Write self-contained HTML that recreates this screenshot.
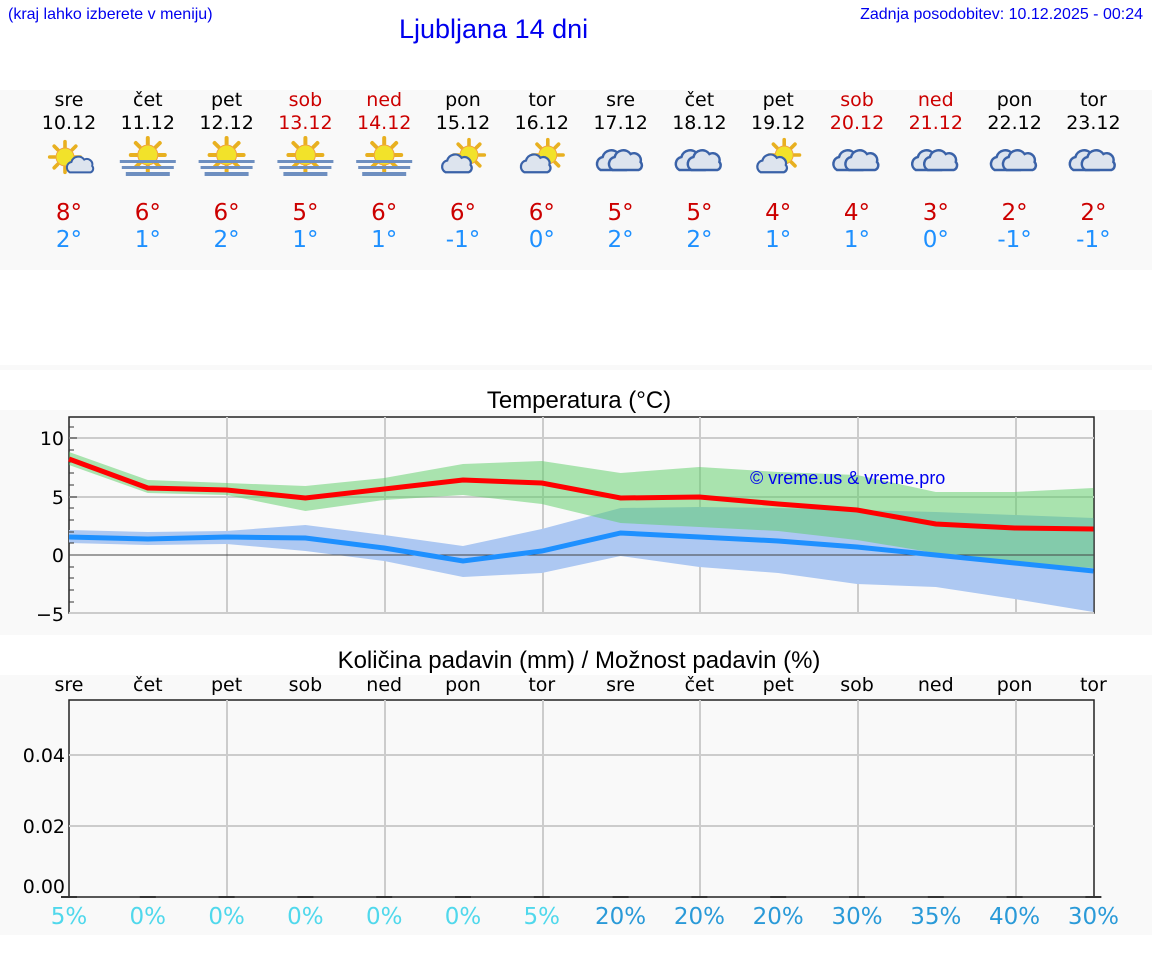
<!DOCTYPE html>
<html><head><meta charset="utf-8"><style>
body{margin:0;width:1152px;height:975px;background:#fff;font-family:"DejaVu Sans","Liberation Sans",sans-serif;position:relative;overflow:hidden}
.a{position:absolute}
.band{position:absolute;left:0;width:1152px;background:#f9f9f9}
.day{position:absolute;width:80px;text-align:center;font-size:19px;line-height:23px}
</style></head><body>
<div class="a" style="left:8px;top:6px;font-size:16px;color:#0000ee;font-family:'Liberation Sans',sans-serif">(kraj lahko izberete v meniju)</div>
<div class="a" style="left:399px;top:14px;font-size:27px;color:#0000ee;font-family:'Liberation Sans',sans-serif">Ljubljana 14 dni</div>
<div class="a" style="right:9px;top:6px;font-size:16px;color:#0000ee;font-family:'Liberation Sans',sans-serif">Zadnja posodobitev: 10.12.2025 - 00:24</div>
<div class="band" style="top:90px;height:180px"></div>
<div class="band" style="top:365px;height:5px"></div>
<div class="band" style="top:410px;height:225px"></div>
<div class="band" style="top:675px;height:260px"></div>
<div id="days"></div>
<svg class="a" style="left:0;top:0" width="1152" height="975" id="s">
<defs>
<g id="sun"><g stroke="#e8b020" stroke-width="4" stroke-linecap="round"><line x1="0" y1="-11" x2="0" y2="-17"/><line x1="8" y1="-8" x2="12" y2="-12"/><line x1="-8" y1="-8" x2="-12" y2="-12"/><line x1="11" y1="0" x2="17" y2="0"/><line x1="-11" y1="0" x2="-17" y2="0"/><line x1="8" y1="8" x2="12" y2="12"/><line x1="-8" y1="8" x2="-12" y2="12"/><line x1="0" y1="11" x2="0" y2="17"/></g><circle r="10" fill="#f2e22a" stroke="#f0a040"/></g>
<g id="cl"><path d="M-14 8 a7 7 0 0 1 2-13 a9 9 0 0 1 16-3 a7 7 0 0 1 10 8 a5 5 0 0 1-2 8z" fill="#dde4ee" stroke="#3a62a8" stroke-width="2.5"/></g>
<g id="fog"><g fill="#6e8fc0"><rect x="-28" y="2" width="56" height="3"/><rect x="-26" y="8" width="52" height="3"/><rect x="-22" y="14" width="44" height="4"/></g></g>
</defs>
</svg>
<script>
var names=["sre","čet","pet","sob","ned","pon","tor","sre","čet","pet","sob","ned","pon","tor"];
var dates=["10.12","11.12","12.12","13.12","14.12","15.12","16.12","17.12","18.12","19.12","20.12","21.12","22.12","23.12"];
var hi=[8,6,6,5,6,6,6,5,5,4,4,3,2,2],lo=[2,1,2,1,1,-1,0,2,2,1,1,0,-1,-1];
var pct=[5,0,0,0,0,0,5,20,20,20,30,35,40,30];
var icons=["sc","fog","fog","fog","fog","sc2","sc2","cc","cc","sc2","cc","cc","cc","cc"];
var h="";var s="";
for(var i=0;i<14;i++){var x=69+i*78.8;var red=(i==3||i==4||i==10||i==11);
h+='<div class="day" style="left:'+(x-40)+'px;top:89px;color:'+(red?'#cc0000':'#000')+'">'+names[i]+'<br>'+dates[i]+'</div>';
h+='<div class="day" style="left:'+(x-40)+'px;top:200px;font-size:23px;line-height:27px;color:#cc0000">'+hi[i]+'°</div>';
h+='<div class="day" style="left:'+(x-40)+'px;top:227px;font-size:23px;line-height:27px;color:#1e90ff">'+lo[i]+'°</div>';
h+='<div class="day" style="left:'+(x-40)+'px;top:674px;">'+names[i]+'</div>';
h+='<div class="day" style="left:'+(x-40)+'px;top:904px;font-size:23px;line-height:27px;color:'+(pct[i]>=20?'#2a9ad8':'#50d8ec')+'">'+pct[i]+'%</div>';
var c=icons[i];
if(c=="fog")s+='<g transform="translate('+(x)+',158)"><use href="#sun" transform="translate(0,-3)"/><use href="#fog"/></g>';
else if(c=="sc")s+='<g transform="translate('+x+',160)"><use href="#sun" transform="translate(-4,-3) scale(.9)"/><use href="#cl" transform="translate(12,6) scale(.8)"/></g>';
else if(c=="sc2")s+='<g transform="translate('+x+',160)"><use href="#sun" transform="translate(6,-5) scale(.9)"/><use href="#cl" transform="translate(-5,5) scale(.9)"/></g>';
else s+='<g transform="translate('+x+',160)"><use href="#cl" transform="translate(-6,2) scale(1)"/><use href="#cl" transform="translate(6,2) scale(1)"/></g>';
}
document.getElementById("days").innerHTML=h;
var X=[];for(var i=0;i<14;i++)X.push(69+i*78.8);
function pl(a){return a.map(function(y,i){return X[i]+','+y}).join(' ')}
function band(u,l){return pl(u)+' '+l.map(function(y,i){return X[i]+','+y}).reverse().join(' ')}
var gu=[452,480,483,486,478,464,461,473,467,472,475,492,492,488],gl=[465,493,495,511,500,495,504,523,527,531,540,553,563,568];
var bu=[530,532,531,525,535,546,529,508,507,508,510,512,515,518],bl=[543,545,544,551,561,577,573,556,567,573,584,587,599,612];
var r=[459,488,490,498,489,480,483,498,497,504,510,524,528,529],b=[537,539,537,538,548,561,551,533,537,541,547,555,563,571];
var g='';
g+='<rect x="69" y="417" width="1025" height="196" fill="#f9f9f9" stroke="#222" stroke-width="1.5"/>';
[227,385,543,700,858,1016].forEach(function(x){g+='<line x1="'+x+'" y1="417" x2="'+x+'" y2="613" stroke="#ccc" stroke-width="2"/>'});
[438,497,613].forEach(function(y){g+='<line x1="69" y1="'+y+'" x2="1094" y2="'+y+'" stroke="#ccc" stroke-width="2"/>'});
g+='<polygon points="'+band(bu,bl)+'" fill="#adc8f2"/>';
g+='<polygon points="'+band(gu,gl)+'" fill="rgb(90,205,100)" fill-opacity="0.5"/>';
g+='<line x1="69" y1="555" x2="1094" y2="555" stroke="#444" stroke-width="1"/>';
[427,438,450,462,473,485,497,508,520,532,543,567,578,590,602].forEach(function(y){g+='<line x1="69" y1="'+y+'" x2="'+(y==438||y==497?77:74)+'" y2="'+y+'" stroke="#333"/>'});
g+='<polyline points="'+pl(r)+'" fill="none" stroke="#f00" stroke-width="5"/>';
g+='<polyline points="'+pl(b)+'" fill="none" stroke="#1e90ff" stroke-width="5"/>';
g+='<text x="750" y="484" font-family="Liberation Sans" font-size="18" fill="#0000ee">© vreme.us &amp; vreme.pro</text>';
g+='<text x="579" y="408" font-family="Liberation Sans" font-size="24" text-anchor="middle">Temperatura (°C)</text>';
['10',438,'5',497,'0',555,'−5',614].forEach(function(v,i,a){if(i%2==0)g+='<text x="64" y="'+(a[i+1]+7)+'" font-size="19" text-anchor="end">'+v+'</text>'});
g+='<text x="579" y="668" font-family="Liberation Sans" font-size="24" text-anchor="middle">Količina padavin (mm) / Možnost padavin (%)</text>';
g+='<rect x="69" y="700" width="1025" height="197" fill="#f9f9f9" stroke="#222" stroke-width="1.5"/>';
[227,385,543,700,858,1016].forEach(function(x){g+='<line x1="'+x+'" y1="700" x2="'+x+'" y2="897" stroke="#ccc" stroke-width="2"/>'});
[755,826].forEach(function(y){g+='<line x1="69" y1="'+y+'" x2="1094" y2="'+y+'" stroke="#ccc" stroke-width="2"/>'});
['0.04',755,'0.02',826,'0.00',886].forEach(function(v,i,a){if(i%2==0)g+='<text x="65" y="'+(a[i+1]+7)+'" font-size="19" text-anchor="end">'+v+'</text>'});
X.forEach(function(x){g+='<line x1="'+(x-8)+'" y1="897" x2="'+(x+8)+'" y2="897" stroke="#333" stroke-width="2"/>'});
document.getElementById("s").innerHTML+=g+s;
</script>
</body></html>
